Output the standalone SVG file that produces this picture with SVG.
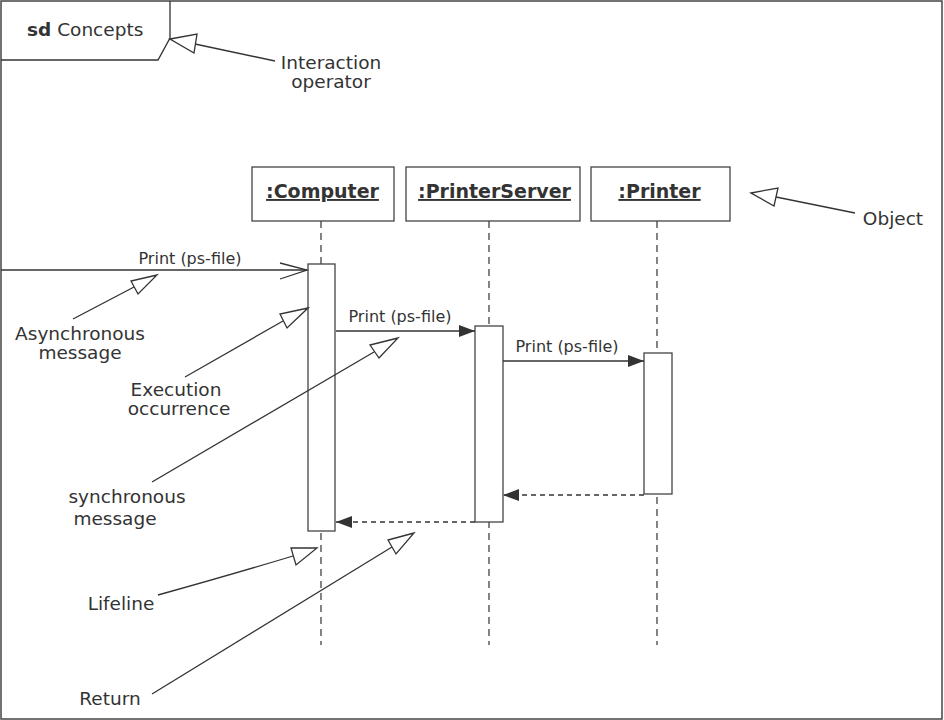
<svg xmlns="http://www.w3.org/2000/svg" width="944" height="720" viewBox="0 0 944 720">
<defs>
<style>
text{font-family:"DejaVu Sans","Open Sans","Liberation Sans",sans-serif;fill:#333}
.ann{font-size:18.5px}
.msg{font-size:16px}
.obj{font-size:19px;font-weight:bold;text-decoration:underline}
.box{fill:#fff;stroke:#444;stroke-width:1.3}
.ln{stroke:#333;stroke-width:1.3;fill:none}
.dash{stroke:#333;stroke-width:1.3;stroke-dasharray:5,4;fill:none}
.life{stroke:#333;stroke-width:1.2;stroke-dasharray:7,5;fill:none}
.tri{fill:#fff;stroke:#333;stroke-width:1.3}
</style>
<marker id="filled" viewBox="0 0 16 12" refX="16" refY="6" markerWidth="16" markerHeight="12" markerUnits="userSpaceOnUse" orient="auto">
<path d="M0,0 L16,6 L0,12 Z" fill="#333"/>
</marker>
</defs>
<rect x="1" y="1" width="941" height="718" fill="#fff" stroke="#444" stroke-width="1.5"/>
<g id="frame-tab">
<path class="ln" d="M170,1 L170,38 L158,60 L1,60"/>
<text x="27" y="36" style="font-size:18.5px"><tspan font-weight="bold">sd</tspan> Concepts</text>
</g>
<g id="lifelines">
<line class="life" x1="321" y1="221" x2="321" y2="645"/>
<line class="life" x1="489" y1="221" x2="489" y2="645"/>
<line class="life" x1="657" y1="221" x2="657" y2="645"/>
</g>
<g id="computer">
<rect class="box" x="252" y="167" width="142" height="54"/>
<text class="obj" x="322.5" y="198" text-anchor="middle">:Computer</text>
</g>
<g id="printerserver">
<rect class="box" x="406" y="167" width="174" height="54"/>
<text class="obj" x="494.5" y="198" text-anchor="middle">:PrinterServer</text>
</g>
<g id="printer">
<rect class="box" x="591" y="167" width="139" height="54"/>
<text class="obj" x="659.5" y="198" text-anchor="middle">:Printer</text>
</g>
<g id="activations">
<rect class="box" x="308" y="264" width="27" height="267"/>
<rect class="box" x="475" y="326" width="28" height="196"/>
<rect class="box" x="644" y="353" width="28" height="141"/>
</g>
<g id="messages">
<line class="ln" x1="1" y1="270" x2="307" y2="270"/>
<path class="ln" d="M280,263 L307,270 L280,279"/>
<text class="msg" x="190" y="264" text-anchor="middle">Print (ps-file)</text>
<line class="ln" x1="336" y1="331" x2="475" y2="331" marker-end="url(#filled)"/>
<text class="msg" x="400" y="322" text-anchor="middle">Print (ps-file)</text>
<line class="ln" x1="503" y1="361" x2="644" y2="361" marker-end="url(#filled)"/>
<text class="msg" x="567" y="352" text-anchor="middle">Print (ps-file)</text>
<line class="dash" x1="644" y1="495" x2="503" y2="495" marker-end="url(#filled)"/>
<line class="dash" x1="475" y1="522" x2="336" y2="522" marker-end="url(#filled)"/>
</g>
<g id="annotations">
<g id="ann-interaction">
<line class="ln" x1="275" y1="61" x2="195" y2="44"/>
<path class="tri" d="M170,39 L197,34 L194,53 Z"/>
<text class="ann" x="331" y="69" text-anchor="middle">Interaction</text>
<text class="ann" x="331" y="88" text-anchor="middle">operator</text>
</g>
<g id="ann-object">
<line class="ln" x1="855" y1="213" x2="776" y2="197"/>
<path class="tri" d="M751,193 L778,188 L774,206 Z"/>
<text class="ann" x="893" y="225" text-anchor="middle">Object</text>
</g>
<g id="ann-async">
<line class="ln" x1="73" y1="319" x2="134" y2="287"/>
<path class="tri" d="M157,275 L131,281 L138,294 Z"/>
<text class="ann" x="80" y="340" text-anchor="middle">Asynchronous</text>
<text class="ann" x="80" y="359" text-anchor="middle">message</text>
</g>
<g id="ann-exec">
<line class="ln" x1="185" y1="377" x2="283" y2="321"/>
<path class="tri" d="M308,308 L280,314 L287,328 Z"/>
<text class="ann" x="176" y="396" text-anchor="middle">Execution</text>
<text class="ann" x="179" y="415" text-anchor="middle">occurrence</text>
</g>
<g id="ann-sync">
<line class="ln" x1="152" y1="482" x2="374" y2="352"/>
<path class="tri" d="M398,338 L370,345 L379,358 Z"/>
<text class="ann" x="127" y="503" text-anchor="middle">synchronous</text>
<text class="ann" x="115" y="525" text-anchor="middle">message</text>
</g>
<g id="ann-lifeline">
<path class="ln" d="M158,595 Q230,575 293,556"/>
<path class="tri" d="M317,548 L291,548 L296,565 Z"/>
<text class="ann" x="121" y="610" text-anchor="middle">Lifeline</text>
</g>
<g id="ann-return">
<line class="ln" x1="152" y1="694" x2="392" y2="547"/>
<path class="tri" d="M414,533 L388,540 L396,554 Z"/>
<text class="ann" x="110" y="705" text-anchor="middle">Return</text>
</g>
</g>
</svg>
